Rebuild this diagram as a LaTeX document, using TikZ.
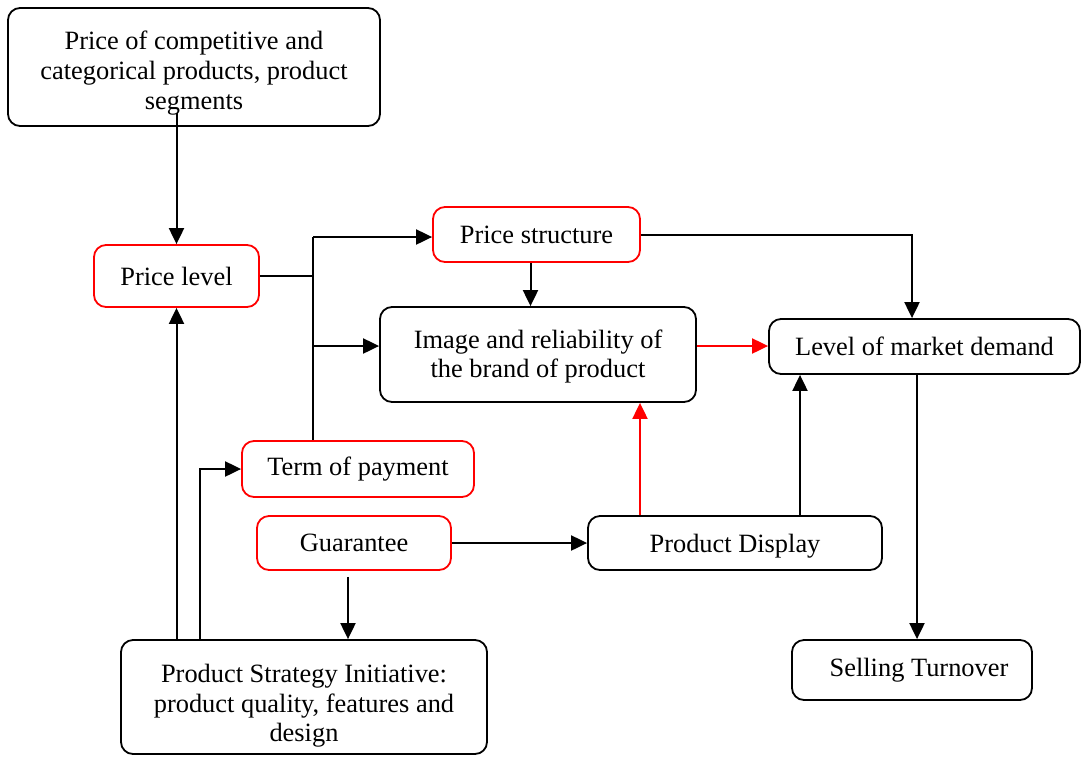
\documentclass[tikz,border=0pt]{standalone}
\usepackage{fontspec}
\setmainfont{Liberation Serif}
\usetikzlibrary{arrows.meta,positioning,calc}
\definecolor{fredge}{RGB}{255,0,0}
\definecolor{fkedge}{RGB}{0,0,0}
\tikzset{
  fbox/.style={
    draw, line width=0.9pt, rounded corners=6pt,
    align=center, inner sep=0pt, fill=white,
    font=\fontsize{13.2}{14.8}\selectfont
  },
  blkbox/.style={fbox, draw=fkedge},
  redbox/.style={fbox, draw=fredge},
  txt/.style={align=center, inner sep=0pt, font=\fontsize{13.2}{14.8}\selectfont},
  line/.style={draw=fkedge, line width=1pt},
  arr/.style={line, -{Triangle[length=8pt,width=7.5pt]}},
  redarr/.style={arr, draw=fredge, fill=fredge}
}
\begin{document}
\begin{tikzpicture}[x=0.5pt,y=-0.5pt]
  \useasboundingbox (0,0) rectangle (1081,756);
  % boxes
  \node[blkbox, minimum width=186pt, minimum height=59pt] (compet) at (194,67) {};
  \node[txt] (competlbl) at ([yshift=-3pt]compet.center)
    {Price of competitive and\\categorical products, product\\segments};
  \node[redbox, minimum width=82.5pt, minimum height=31pt] (pricelvl) at (176.5,276) {Price level};
  \node[redbox, minimum width=103.5pt, minimum height=27.5pt] (pricestr) at (536.5,234.5) {Price structure};
  \node[blkbox, minimum width=158pt, minimum height=47.5pt] (image) at (538,354.5) {};
  \node[txt] (imagelbl) at ([yshift=-1pt]image.center)
    {Image and reliability of\\the brand of product};
  \node[blkbox, minimum width=155.5pt, minimum height=27.5pt] (demand) at (924.5,346.5) {Level of market demand};
  \node[redbox, minimum width=116pt, minimum height=28pt] (term) at (358,469) {Term of payment};
  \node[redbox, minimum width=97pt, minimum height=27pt] (guar) at (354,543) {Guarantee};
  \node[blkbox, minimum width=147pt, minimum height=27pt] (display) at (735,543) {};
  \node[txt] (displaylbl) at ([yshift=-1.5pt]display.center) {Product Display};
  \node[blkbox, minimum width=183pt, minimum height=57pt] (strategy) at (304,697) {};
  \node[txt] (strategylbl) at ([yshift=-4.5pt]strategy.center)
    {Product Strategy Initiative:\\product quality, features and\\design};
  \node[blkbox, minimum width=120pt, minimum height=30pt] (turnover) at (912,670) {\hspace*{7pt}Selling Turnover};
  % connectors
  \coordinate (trunk) at (313,237);
  \draw[arr] ([yshift=7pt]pricelvl.north |- compet.south) -- (pricelvl.north);
  \draw[line] (pricelvl.east) -- (pricelvl.east -| trunk);
  \draw[line] (term.north -| trunk) -- (trunk);
  \draw[arr] (trunk) -- (trunk -| pricestr.west);
  \draw[arr] ([yshift=4.25pt]image.west -| trunk) -- ([yshift=4.25pt]image.west);
  \draw[arr] ([xshift=-3pt]pricestr.south) -- ([xshift=-3pt]pricestr.south |- image.north);
  \draw[arr] (pricestr.east) -| ([xshift=-6.25pt]demand.north);
  \draw[redarr] ([yshift=4.25pt]image.east) -- ([yshift=4.25pt]image.east -| demand.west);
  \draw[redarr] ([xshift=-47.5pt]display.north) -- ([xshift=-47.5pt]display.north |- image.south);
  \draw[arr] ([xshift=32.5pt]display.north) -- ([xshift=32.5pt]display.north |- demand.south);
  \draw[arr] ([xshift=-3.75pt]demand.south) -- ([xshift=-3.75pt]demand.south |- turnover.north);
  \draw[arr] (guar.east) -- (guar.east -| display.west);
  \draw[arr] ([xshift=-3pt,yshift=-3pt]guar.south) -- ([xshift=-3pt]guar.south |- strategy.north);
  \draw[arr] (strategy.north -| pricelvl.south) -- (pricelvl.south);
  \draw[arr] ([xshift=-52pt]strategy.north) |- (term.west);
\end{tikzpicture}
\end{document}
